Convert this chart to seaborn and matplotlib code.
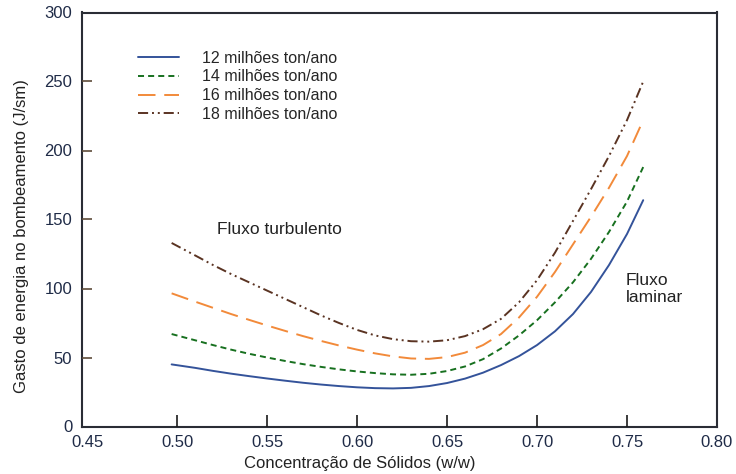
import matplotlib
matplotlib.use("Agg")
import matplotlib.pyplot as plt
import numpy as np
import pandas as pd
import seaborn as sns

# Solids concentration (w/w) at which each curve is read
conc = [0.497, 0.51, 0.52, 0.53, 0.54, 0.55, 0.56, 0.57, 0.58, 0.59, 0.60,
        0.61, 0.62, 0.63, 0.64, 0.65, 0.66, 0.67, 0.68, 0.69, 0.70, 0.71,
        0.72, 0.73, 0.74, 0.75, 0.759]

# Pumping energy (J/sm) per throughput
e12 = [45, 42.5, 40.3, 38.3, 36.5, 34.8, 33.2, 31.7, 30.4, 29.3, 28.4,
       27.8, 27.6, 28.0, 29.3, 31.5, 34.7, 39.0, 44.5, 51, 59, 69,
       81.5, 97.5, 117, 139.5, 164]
e14 = [67, 62.5, 59, 55.7, 52.7, 50, 47.5, 45.2, 43.2, 41.4, 39.9,
       38.7, 37.8, 37.5, 38.2, 40.2, 43.5, 48.8, 56.5, 66, 77, 90,
       104.5, 121.5, 141, 163, 188]
e16 = [96.5, 90.5, 86, 81.5, 77.3, 73.2, 69.3, 65.5, 62, 58.7, 55.7,
       53, 50.8, 49.3, 49, 50.3, 53.5, 59, 67, 79, 94, 112,
       132, 152, 173, 196, 222]
e18 = [133, 124, 117, 110.5, 104.5, 98.5, 92.5, 86.5, 80.5, 75, 70,
       66, 63.3, 61.8, 61.5, 62.5, 65.5, 70.5, 78, 90, 106, 126,
       149, 172, 196, 222, 250]

series = ["12 milhões ton/ano", "14 milhões ton/ano",
          "16 milhões ton/ano", "18 milhões ton/ano"]
colors = ["#34539a", "#17701f", "#f28a3a", "#5a3322"]

x_ticks = [0.45, 0.50, 0.55, 0.60, 0.65, 0.70, 0.75, 0.80]
y_ticks = [0, 50, 100, 150, 200, 250, 300]

df = pd.concat(
    [pd.DataFrame({"conc": conc, "energia": vals, "serie": name})
     for name, vals in zip(series, [e12, e14, e16, e18])],
    ignore_index=True,
)

sns.set_theme(style="white")
plt.rcParams["font.family"] = ["Liberation Sans", "DejaVu Sans"]

fig = plt.figure(figsize=(7.36, 4.74), dpi=100)
ax = fig.add_axes([82 / 736, 1 - 426.5 / 474, 635 / 736, 414 / 474])

dash_map = {
    series[0]: "",
    series[1]: (3.1, 2.1),
    series[2]: (9.0, 4.5),
    series[3]: (5.2, 2.0, 1.0, 2.0, 1.0, 2.0),
}
sns.lineplot(data=df, x="conc", y="energia", hue="serie", style="serie",
             palette=dict(zip(series, colors)), dashes=dash_map,
             linewidth=1.4, errorbar=None, ax=ax)

handles, labels = ax.get_legend_handles_labels()
ax.legend(handles, labels, loc="upper left", bbox_to_anchor=(0.088, 0.908),
          frameon=False, fontsize=11.5, handlelength=2.6, handletextpad=1.4,
          labelspacing=0.24, borderpad=0, borderaxespad=0)

ax.set_xlim(0.4472, 0.80)
ax.set_ylim(0, 300)

ax.set_xticks(x_ticks)
ax.set_xticklabels([f"{v:.2f}" for v in x_ticks])
ax.set_yticks(y_ticks)
ax.set_yticklabels([str(v) for v in y_ticks])

tick_color = "#1f2b47"
ax.tick_params(axis="x", which="major", bottom=True, length=0,
               labelsize=12, labelcolor=tick_color, pad=6.0)
ax.tick_params(axis="y", which="major", left=True, length=0,
               labelsize=12, labelcolor=tick_color, pad=7.0)

# Short inward marks at the interior tick positions, pinned to the frame
ax.vlines(x_ticks[1:-1], 0, 0.028, transform=ax.get_xaxis_transform(),
          colors="#1a1a1a", linewidth=1.2, zorder=3, clip_on=False)
ax.hlines(y_ticks[1:-1], 0, 0.016, transform=ax.get_yaxis_transform(),
          colors="#5e4c3a", linewidth=1.2, zorder=3, clip_on=False)

for side in ["left", "right", "top", "bottom"]:
    ax.spines[side].set_visible(True)
    ax.spines[side].set_color("#2a2d35")
    ax.spines[side].set_linewidth(1.5)

ax.set_xlabel("Concentração de Sólidos (w/w)", fontsize=12, color="#222222")
ax.set_ylabel("Gasto de energia no bombeamento (J/sm)", fontsize=12, color="#222222")
ax.xaxis.set_label_coords(0.437, -0.072)
ax.yaxis.set_label_coords(-0.083, 0.46)

ax.text(0.5222, 142.4, "Fluxo turbulento", fontsize=12.5, color="#222222",
        ha="left", va="center")
ax.text(0.7494, 99.6, "Fluxo\nlaminar", fontsize=12.5, color="#222222",
        ha="left", va="center", linespacing=1.1)

fig.savefig("out.png", dpi=100, facecolor="white")
